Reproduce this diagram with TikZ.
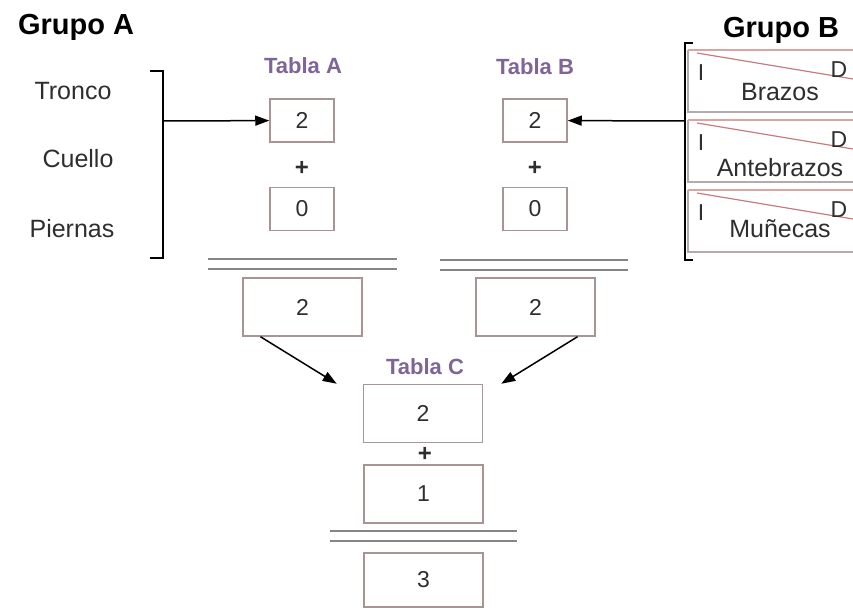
\documentclass[tikz,border=0pt]{standalone}
\usepackage{fontspec}
\setmainfont{Liberation Sans}
\usepackage{tikz}
\usetikzlibrary{arrows.meta}
\usetikzlibrary{calc}
\usetikzlibrary{positioning}

\definecolor{borde}{HTML}{A89494}
\definecolor{morado}{HTML}{7E6497}
\definecolor{texto}{HTML}{2E2E2E}
\definecolor{rosa}{HTML}{D8A4A4}
\definecolor{gris}{HTML}{B4ABAB}
\definecolor{diag}{HTML}{C47C7C}
\definecolor{raya}{HTML}{858585}

\begin{document}
\begin{tikzpicture}[x=0.5pt,y=-0.5pt,>={Triangle[length=7pt,width=5pt]},text=texto]
  \tikzstyle{valor}=[draw=borde,line width=0.75pt,inner sep=0pt,font=\fontsize{11.5}{12}\selectfont]
  \tikzstyle{chica}=[valor,minimum width=32pt,minimum height=21.5pt]
  \tikzstyle{grande}=[valor,minimum width=59.5pt,minimum height=29pt]
  \tikzstyle{tabla}=[anchor=base,text=morado,font=\bfseries\fontsize{11}{12}\selectfont]
  \tikzstyle{grupo}=[anchor=base west,text=black,font=\bfseries\fontsize{14.5}{16}\selectfont]
  \tikzstyle{parte}=[anchor=base,font=\fontsize{12.5}{14}\selectfont]
  \tikzstyle{lado}=[anchor=base,font=\fontsize{11.5}{12}\selectfont]
  \tikzstyle{mas}=[font=\bfseries\fontsize{12}{12}\selectfont]
  \tikzstyle{igual}=[draw=raya,line width=1pt]
  \tikzstyle{llave}=[draw=black,line width=1pt]
  \tikzstyle{flecha}=[->,line width=0.75pt,draw=black]

  \useasboundingbox (0,0) rectangle (853,608);

  % grupo A
  \node[grupo] (gA) at (11,35) {Grupo A};
  \node[parte] (tronco)  at (73,100) {Tronco};
  \node[parte] (cuello)  at (78,168) {Cuello};
  \node[parte] (piernas) at (72,238) {Piernas};
  \draw[llave] (150,71) -- (163,71) -- (163,258) -- (150,258);
  \coordinate (brA) at (163,121);

  % grupo B, una fila por segmento
  \node[grupo] (gB) at (716,38) {Grupo B};
  \foreach \top/\nom/\dy [count=\i] in {50/Brazos/51, 120/Antebrazos/57, 190/Muñecas/48} {
    \draw[draw=gris,line width=0.6pt] (853,\top+62) -- (688,\top+62) -- (688,\top);
    \draw[draw=rosa,line width=0.6pt] (688,\top) -- (853,\top);
    \draw[draw=diag,line width=0.6pt] (697,\top+3) -- (853,\top+29);
    \node[lado] (izq\i) at (701,\top+31) {I};
    \node[lado] (der\i) at (839,\top+28) {D};
    \node[parte] (seg\i) at (780,\top+\dy) {\nom};
  }
  \draw[llave] (693,43) -- (685,43) -- (685,260) -- (693,260);
  \coordinate (brB) at (685,121);

  % tablas A y B
  \node[tabla] (tA) at (303,74) {Tabla A};
  \node[chica] (A1) at (302,120.5) {2};
  \node[mas]   (pA) at (302,168) {+};
  \node[chica] (A2) at (302,209) {0};
  \draw[igual] (208,259) -- (397,259) (208,269) -- (397,269);
  \node[grande] (A3) at (302.5,307) {2};

  \node[tabla] (tB) at (535,75) {Tabla B};
  \node[chica] (B1) at (535,120.5) {2};
  \node[mas]   (pB) at (535,168) {+};
  \node[chica] (B2) at (535,209) {0};
  \draw[igual] (440,260) -- (628,260) (440,270) -- (628,270);
  \node[grande] (B3) at (535.5,307) {2};

  % tabla C
  \node[tabla] (tC) at (425,375) {Tabla C};
  \node[grande] (C1) at (423,413.5) {2};
  \node[mas]    (pC) at (425,454) {+};
  \node[grande] (C2) at (423.5,494) {1};
  \draw[igual] (330,531) -- (517,531) (330,541) -- (517,541);
  \node[grande,minimum height=27pt] (C3) at (423.5,580) {3};

  \path (brA) edge[flecha] (A1)
        (brB) edge[flecha] (B1)
        ([xshift=-21pt]A3.south) edge[flecha] ([xshift=-13pt]C1.north west)
        ([xshift=21pt]B3.south) edge[flecha] ([xshift=9pt]C1.north east);
\end{tikzpicture}
\end{document}
